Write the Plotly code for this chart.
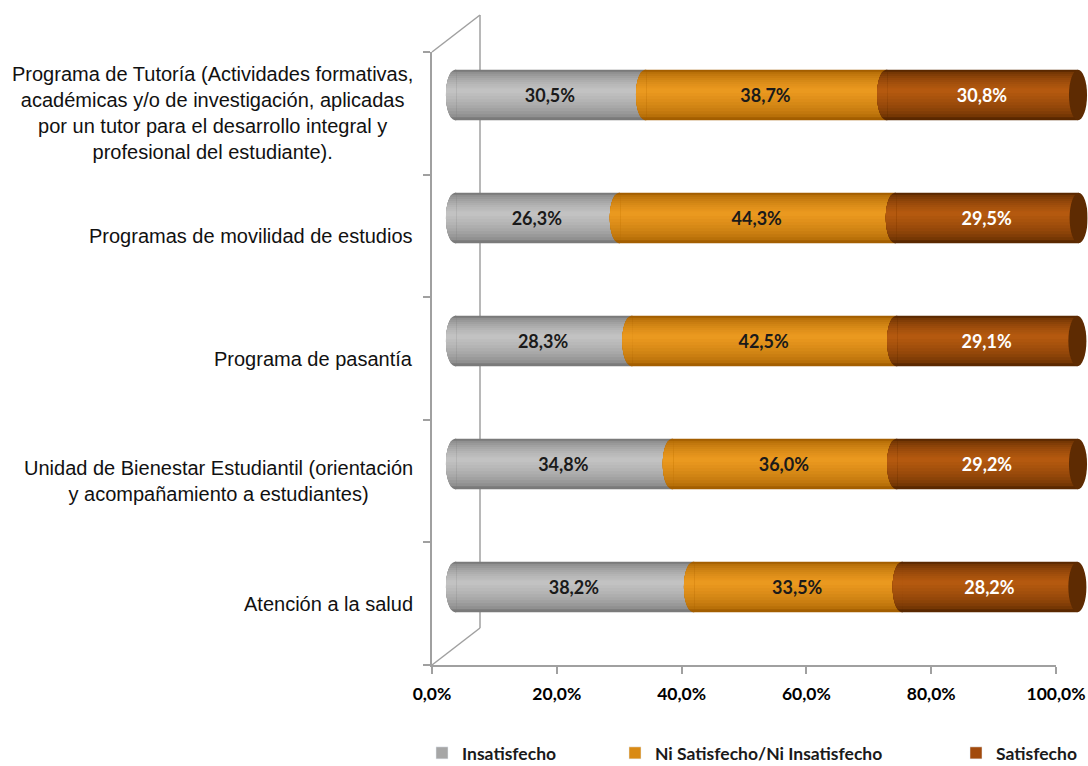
import math
import plotly.graph_objects as go

# Categories, bottom to top
categories = [
    "Atención a la salud",
    "Unidad de Bienestar Estudiantil (orientación<br>y acompañamiento a estudiantes)",
    "Programa de pasantía",
    "Programas de movilidad de estudios",
    "Programa de Tutoría (Actividades formativas,<br>académicas y/o de investigación, aplicadas<br>"
    "por un tutor para el desarrollo integral y<br>profesional del estudiante).",
]
insatisfecho = [38.2, 34.8, 28.3, 26.3, 30.5]
ni_satisfecho = [33.5, 36.0, 42.5, 44.3, 38.7]
satisfecho = [28.2, 29.2, 29.1, 29.5, 30.8]
series_names = ["Insatisfecho", "Ni Satisfecho/Ni Insatisfecho", "Satisfecho"]
x_ticks = [0, 20, 40, 60, 80, 100]
x_tick_text = ["0,0%", "20,0%", "40,0%", "60,0%", "80,0%", "100,0%"]

W, H = 1088, 766


def px_x(v):
    return v / W


def px_y(v):
    return 1 - v / H


def hex_rgb(h):
    h = h.lstrip("#")
    return tuple(int(h[i:i + 2], 16) for i in (0, 2, 4))


def mix(c1, c2, t):
    a, b = hex_rgb(c1), hex_rgb(c2)
    return "rgb({},{},{})".format(*[round(p + (q - p) * t) for p, q in zip(a, b)])


series_values = [insatisfecho, ni_satisfecho, satisfecho]
legend_colors = ["#a6a6a6", "#d98a14", "#a24a0c"]
text_colors = ["#1a1a1a", "#1a1a1a", "#ffffff"]
edge_colors = ["#7a7a7a", "#a35e00", "#5a2800"]
center_colors = ["#c2c2c2", "#ea991f", "#b4590f"]
right_cap_color = "#5e2b02"

BAR_W = 0.41
N_BANDS = 10
bands = []
for k in range(N_BANDS):
    frac = 1 - k / N_BANDS
    t = (k / (N_BANDS - 1)) ** 0.55
    bands.append((frac, 0.035 * (k / (N_BANDS - 1)), t))

ypos = list(range(len(categories)))
bases = []
run = [0.0] * len(ypos)
for vals in series_values:
    bases.append(list(run))
    run = [r + v for r, v in zip(run, vals)]
totals = run

fig = go.Figure()

# shaded cylinder segments
for s, vals in enumerate(series_values):
    for frac, shift, t in bands:
        bw = BAR_W * frac
        fig.add_trace(go.Bar(
            x=vals, y=ypos, base=bases[s], orientation="h",
            width=bw, offset=-bw / 2 + shift,
            marker=dict(color=mix(edge_colors[s], center_colors[s], t), line=dict(width=0)),
            xaxis="x2", yaxis="y2", showlegend=False, hoverinfo="skip",
        ))

# value labels on top of the shaded bands
for s, vals in enumerate(series_values):
    fig.add_trace(go.Bar(
        x=vals, y=ypos, base=bases[s], orientation="h",
        width=BAR_W, offset=-BAR_W / 2,
        marker=dict(color="rgba(0,0,0,0)", line=dict(width=0)),
        texttemplate="%{x:.1f}%", textposition="inside",
        insidetextanchor="middle", textangle=0,
        textfont=dict(family="Lato", size=18, color=text_colors[s], weight="bold"),
        xaxis="x2", yaxis="y2", showlegend=False, hoverinfo="skip",
    ))

# legend entries
legend_ids = ["legend", "legend2", "legend3"]
for s, name in enumerate(series_names):
    fig.add_trace(go.Bar(
        x=[None], y=[None], orientation="h", name=name,
        marker=dict(color=legend_colors[s]),
        xaxis="x2", yaxis="y2", legend=legend_ids[s], hoverinfo="skip",
    ))

frame_col = "#a0a0a0"
cap_dx = 1.45
SEAM = 0.2
R = BAR_W / 2
shapes = [
    # back wall and depth edges
    dict(type="line", xref="paper", yref="paper", x0=px_x(432), y0=px_y(52), x1=px_x(480), y1=px_y(15),
         line=dict(color=frame_col, width=1.5), layer="below"),
    dict(type="line", xref="paper", yref="paper", x0=px_x(480), y0=px_y(15), x1=px_x(480), y1=px_y(628),
         line=dict(color=frame_col, width=1.5), layer="below"),
    dict(type="line", xref="paper", yref="paper", x0=px_x(480), y0=px_y(628), x1=px_x(432), y1=px_y(665),
         line=dict(color=frame_col, width=1.5), layer="below"),
]


def clamp(v):
    return max(-1.0, min(1.0, v))


def end_bulge(xb, yc, s):
    # curved start of a cylinder segment: each shading band is extended
    # to the left along the elliptical end of the cylinder
    out = []
    for frac, shift, t in bands:
        lo = clamp((-R * frac + shift) / R)
        hi = clamp((R * frac + shift) / R)
        a0, a1 = math.asin(hi), math.asin(lo)
        n = 14
        pts = [(xb + SEAM, yc + R * hi)]
        for j in range(n + 1):
            a = a0 + (a1 - a0) * j / n
            pts.append((xb - cap_dx * math.cos(a), yc + R * math.sin(a)))
        pts.append((xb + SEAM, yc + R * lo))
        path = "M" + " L".join("{:.4f},{:.4f}".format(px, py) for px, py in pts) + " Z"
        out.append(dict(type="path", xref="x2", yref="y2", path=path,
                        fillcolor=mix(edge_colors[s], center_colors[s], t),
                        line=dict(width=0), layer="above"))
    return out


for i in ypos:
    for s in range(len(series_values)):
        shapes += end_bulge(bases[s][i], i, s)
    # dark end face at the right
    shapes.append(dict(type="circle", xref="x2", yref="y2",
                       x0=totals[i] - cap_dx, x1=totals[i] + cap_dx,
                       y0=i - R, y1=i + R,
                       fillcolor=right_cap_color, line=dict(width=0), layer="above"))

annotations = []
for i, cat in enumerate(categories):
    annotations.append(dict(
        text=cat, xref="paper", yref="y", x=px_x(415), y=i,
        xanchor="right", yanchor="middle", align="center", showarrow=False,
        font=dict(family="Liberation Sans", size=20, color="#111111"),
    ))

legend_common = dict(orientation="h", yanchor="middle", xanchor="left",
                     xref="container", yref="container",
                     font=dict(family="Lato", size=17.5, color="#1a1a1a", weight="bold"),
                     bgcolor="rgba(0,0,0,0)", borderwidth=0, y=px_y(753))

# bar axis: 0 at 455 px, 100 at 1078 px, padded so the end caps are not clipped
PX_PER_UNIT = (1078 - 455) / 100
PAD = 1.55

fig.update_layout(
    width=W, height=H, autosize=False,
    margin=dict(l=0, r=0, t=0, b=0, autoexpand=False),
    paper_bgcolor="white", plot_bgcolor="rgba(0,0,0,0)",
    separators=", ",
    barmode="overlay",
    uniformtext=dict(mode="show", minsize=18),
    xaxis=dict(
        domain=[px_x(432), px_x(1056)], range=[0, 100],
        tickvals=x_ticks, ticktext=x_tick_text,
        showline=True, linecolor=frame_col, linewidth=1.5,
        ticks="outside", ticklen=7, tickcolor=frame_col, tickwidth=1.5,
        showgrid=False, zeroline=False, ticklabelstandoff=5,
        tickfont=dict(family="Lato", size=17.5, color="#000000", weight="bold"),
        anchor="y",
    ),
    yaxis=dict(
        domain=[px_y(665), px_y(52)], range=[-0.5, len(categories) - 0.5],
        tickvals=[k - 0.5 for k in range(len(categories) + 1)], showticklabels=False,
        showline=True, linecolor=frame_col, linewidth=1.5,
        ticks="outside", ticklen=7, tickcolor=frame_col, tickwidth=1.5,
        showgrid=False, zeroline=False, anchor="x",
    ),
    xaxis2=dict(
        domain=[px_x(455 - PAD * PX_PER_UNIT), min(1.0, px_x(1078 + PAD * PX_PER_UNIT))],
        range=[-PAD, 100 + PAD], visible=False, anchor="y2", fixedrange=True,
    ),
    yaxis2=dict(
        domain=[px_y(648.5), px_y(33.5)], range=[-0.5, len(categories) - 0.5],
        visible=False, anchor="x2", fixedrange=True,
    ),
    shapes=shapes,
    annotations=annotations,
    legend=dict(legend_common, x=px_x(422)),
    legend2=dict(legend_common, x=px_x(615)),
    legend3=dict(legend_common, x=px_x(956)),
    showlegend=True,
)

fig.write_html("out.html")
